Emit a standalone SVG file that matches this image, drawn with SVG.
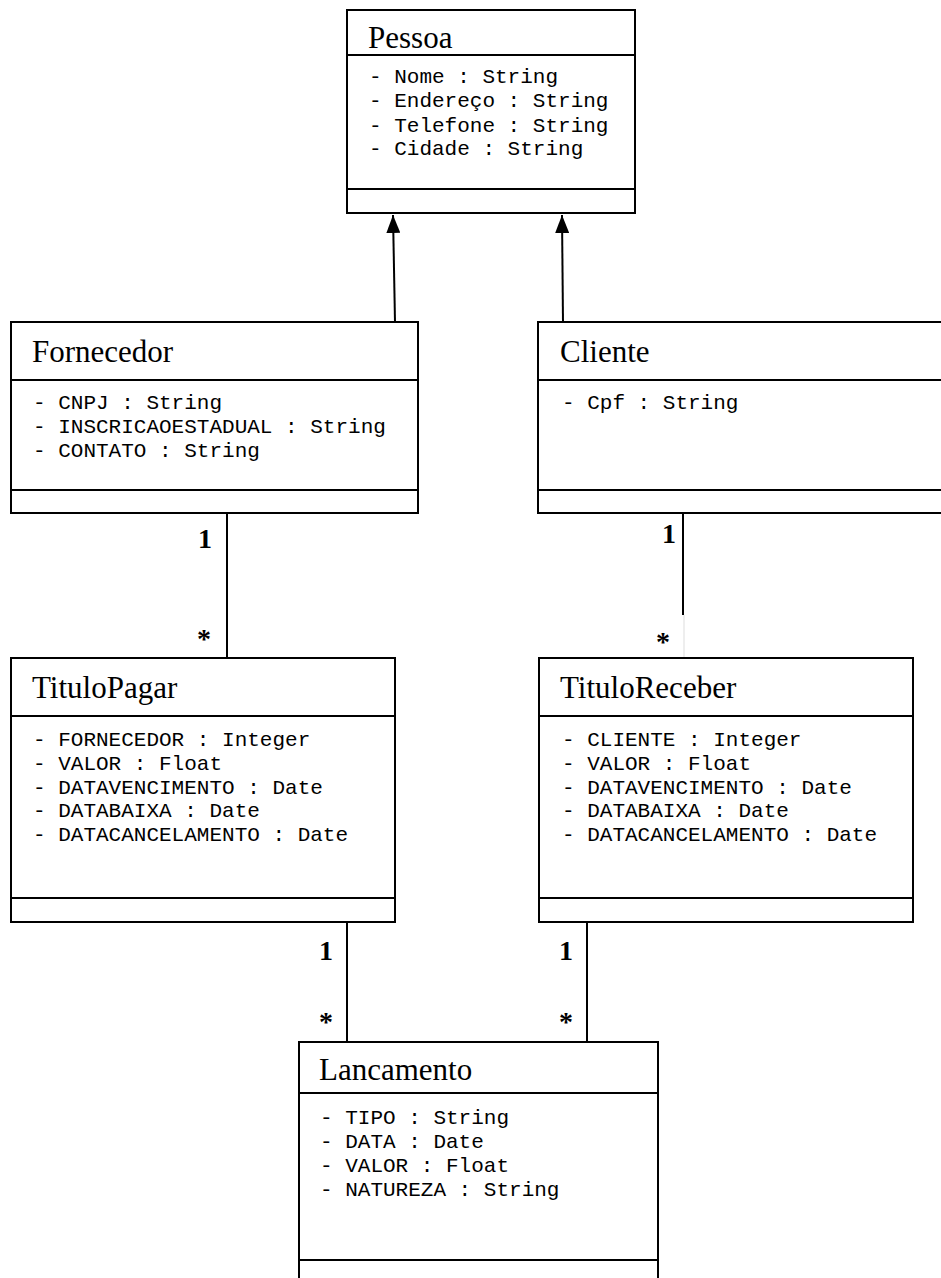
<svg xmlns="http://www.w3.org/2000/svg" width="941" height="1278" viewBox="0 0 941 1278">
<style>
.box{fill:#fff;stroke:#000;stroke-width:2}
.div{stroke:#000;stroke-width:2}
.title{font-family:"Liberation Serif","Times New Roman",serif;font-size:31px;fill:#000}
.attr{font-family:"Liberation Mono","Courier New",monospace;font-size:21px;fill:#000}
.mult{font-family:"Liberation Serif","Times New Roman",serif;font-size:28px;font-weight:bold;fill:#000;text-anchor:middle}
.conn{stroke:#000;stroke-width:2;fill:none}
</style>
<defs>
<marker id="arr" viewBox="0 0 18 14" refX="18" refY="7" markerWidth="18" markerHeight="14" markerUnits="userSpaceOnUse" orient="auto">
<path d="M0,0 L18,7 L0,14 Z" fill="#000"/>
</marker>
</defs>
<rect width="941" height="1278" fill="#fff"/>
<g id="connectors">
<line class="conn" x1="395" y1="322" x2="393" y2="215" marker-end="url(#arr)"/>
<line class="conn" x1="563" y1="322" x2="562" y2="215" marker-end="url(#arr)"/>
<line class="conn" x1="227" y1="513" x2="227" y2="658"/>
<line class="conn" x1="683" y1="513" x2="683" y2="615"/>
<line x1="684" y1="615" x2="684" y2="658" stroke="#ddd" stroke-width="1"/>
<line class="conn" x1="347" y1="922" x2="347" y2="1042"/>
<line class="conn" x1="587" y1="922" x2="587" y2="1042"/>
<text class="mult" x="205" y="548">1</text>
<text class="mult" x="204" y="648" font-size="24">*</text>
<text class="mult" x="669" y="543">1</text>
<text class="mult" x="663" y="651" font-size="24">*</text>
<text class="mult" x="326" y="960">1</text>
<text class="mult" x="326" y="1031" font-size="24">*</text>
<text class="mult" x="566" y="960">1</text>
<text class="mult" x="566" y="1031" font-size="24">*</text>
</g>
<g id="Pessoa">
<rect class="box" x="347" y="10" width="288" height="203"/>
<line class="div" x1="347" y1="55" x2="635" y2="55"/>
<line class="div" x1="347" y1="189" x2="635" y2="189"/>
<text class="title" x="368" y="48">Pessoa</text>
<text class="attr" x="369" y="83">- Nome : String</text>
<text class="attr" x="369" y="107">- Endereço : String</text>
<text class="attr" x="369" y="132">- Telefone : String</text>
<text class="attr" x="369" y="155">- Cidade : String</text>
</g>
<g id="Fornecedor">
<rect class="box" x="11" y="322" width="407" height="191"/>
<line class="div" x1="11" y1="380" x2="418" y2="380"/>
<line class="div" x1="11" y1="490" x2="418" y2="490"/>
<text class="title" x="32" y="362">Fornecedor</text>
<text class="attr" x="33" y="409">- CNPJ : String</text>
<text class="attr" x="33" y="433">- INSCRICAOESTADUAL : String</text>
<text class="attr" x="33" y="457">- CONTATO : String</text>
</g>
<g id="Cliente">
<rect class="box" x="538" y="322" width="430" height="191"/>
<line class="div" x1="538" y1="380" x2="941" y2="380"/>
<line class="div" x1="538" y1="490" x2="941" y2="490"/>
<text class="title" x="560" y="362">Cliente</text>
<text class="attr" x="562" y="409">- Cpf : String</text>
</g>
<g id="TituloPagar">
<rect class="box" x="11" y="658" width="384" height="264"/>
<line class="div" x1="11" y1="716" x2="395" y2="716"/>
<line class="div" x1="11" y1="898" x2="395" y2="898"/>
<text class="title" x="32" y="698">TituloPagar</text>
<text class="attr" x="33" y="746">- FORNECEDOR : Integer</text>
<text class="attr" x="33" y="770">- VALOR : Float</text>
<text class="attr" x="33" y="794">- DATAVENCIMENTO : Date</text>
<text class="attr" x="33" y="817">- DATABAIXA : Date</text>
<text class="attr" x="33" y="841">- DATACANCELAMENTO : Date</text>
</g>
<g id="TituloReceber">
<rect class="box" x="539" y="658" width="374" height="264"/>
<line class="div" x1="539" y1="716" x2="913" y2="716"/>
<line class="div" x1="539" y1="898" x2="913" y2="898"/>
<text class="title" x="560" y="698">TituloReceber</text>
<text class="attr" x="562" y="746">- CLIENTE : Integer</text>
<text class="attr" x="562" y="770">- VALOR : Float</text>
<text class="attr" x="562" y="794">- DATAVENCIMENTO : Date</text>
<text class="attr" x="562" y="817">- DATABAIXA : Date</text>
<text class="attr" x="562" y="841">- DATACANCELAMENTO : Date</text>
</g>
<g id="Lancamento">
<rect class="box" x="299" y="1042" width="359" height="260"/>
<line class="div" x1="299" y1="1093" x2="658" y2="1093"/>
<line class="div" x1="299" y1="1260" x2="658" y2="1260"/>
<text class="title" x="319" y="1080">Lancamento</text>
<text class="attr" x="320" y="1124">- TIPO : String</text>
<text class="attr" x="320" y="1148">- DATA : Date</text>
<text class="attr" x="320" y="1172">- VALOR : Float</text>
<text class="attr" x="320" y="1196">- NATUREZA : String</text>
</g>
</svg>
